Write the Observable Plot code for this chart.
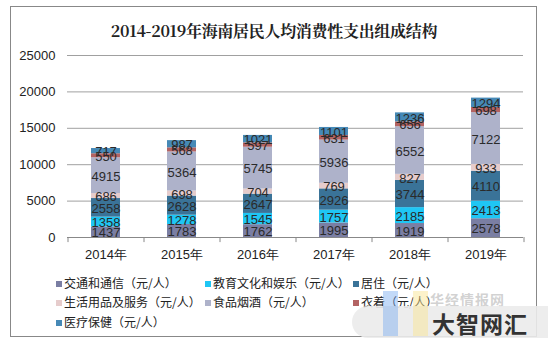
<!DOCTYPE html>
<html><head><meta charset="utf-8">
<script src="https://cdn.jsdelivr.net/npm/d3@7"></script>
<script src="https://cdn.jsdelivr.net/npm/@observablehq/plot@0.6"></script>
<style>
body{margin:0;background:#fff;font-family:"Liberation Sans",Arial,"Noto Sans CJK SC",sans-serif;}
#wrap{position:relative;width:548px;height:349px;overflow:hidden;}
#frame{position:absolute;left:10px;top:6px;width:527px;height:331px;border:1px solid #888;box-sizing:border-box;}
#title{position:absolute;left:0;width:548px;top:19px;text-align:center;font:bold 16px "Noto Serif CJK SC","Noto Sans CJK SC",serif;color:#222;letter-spacing:-0.3px;}
#chart{position:absolute;left:0;top:40px;}
.lg{position:absolute;font:12px "Noto Sans CJK SC",sans-serif;color:#222;white-space:nowrap;line-height:14px;}
.lg i{display:inline-block;width:6px;height:6px;margin-right:2px;vertical-align:1px;}
#wm{position:absolute;left:352px;top:306px;width:210px;height:32px;background:rgba(235,235,235,0.9);border-radius:16px;}
#wm2{position:absolute;left:432px;top:306px;font:bold 23px "Noto Sans CJK SC",sans-serif;color:#333;letter-spacing:1px;}
#wm3{position:absolute;left:430px;top:289px;font:bold 14px "Noto Sans CJK SC",sans-serif;color:rgba(180,180,180,0.6);letter-spacing:1px;}
#lb{position:absolute;left:383px;top:291px;width:15px;height:45px;background:rgba(120,170,240,0.45);}
#ly{position:absolute;left:413px;top:291px;width:15px;height:45px;background:rgba(250,230,150,0.5);}
</style></head>
<body><div id="wrap">
<div id="frame"></div>
<div id="title">2014-2019年海南居民人均消费性支出组成结构</div>
<div id="chart"></div>
<div id="legend"></div>
<div id="wm3">华经情报网</div>
<div id="wm"></div><div id="lb"></div><div id="ly"></div>
<div id="wm2">大智网汇</div>
</div>
<script>
const years = ["2014年","2015年","2016年","2017年","2018年","2019年"];
const seriesNames = ["交通和通信（元/人）","教育文化和娱乐（元/人）","居住（元/人）","生活用品及服务（元/人）","食品烟酒（元/人）","衣着（元/人）","医疗保健（元/人）"];
const colors = ["#7a7ea3","#1fc6f4","#3a7398","#e6cccc","#aeb2ca","#b36363","#4689b6"];
const transport = [1437,1783,1762,1995,1919,2578];
const education = [1358,1278,1545,1757,2185,2413];
const housing = [2558,2628,2647,2926,3744,4110];
const household = [686,698,704,769,827,933];
const food = [4915,5364,5745,5936,6552,7122];
const clothing = [550,568,597,631,656,698];
const medical = [717,987,1021,1101,1236,1294];
const yTicks = [0,5000,10000,15000,20000,25000];

const seriesValues = [transport,education,housing,household,food,clothing,medical];
const data = [];
seriesNames.forEach((s,i)=>years.forEach((y,j)=>data.push({year:y,series:s,value:seriesValues[i][j]})));

const step = 76;
const plot = Plot.plot({
  width:548, height:232,
  marginLeft:67, marginRight:25, marginTop:15, marginBottom:35,
  style:{fontFamily:'"Liberation Sans",Arial,sans-serif',fontSize:"12.5px",color:"#222",background:"transparent"},
  x:{domain:years,paddingInner:0.62,paddingOuter:0.31,label:null},
  y:{domain:[0,25000],label:null},
  color:{domain:seriesNames,range:colors},
  marks:[
    Plot.gridY(yTicks,{stroke:"#a0a0a0",strokeOpacity:1,strokeWidth:1}),
    Plot.axisY(yTicks,{tickSize:0,tickPadding:12,label:null,fontSize:13,tickFormat:d=>String(d)}),
    Plot.barY(data,{x:"year",y:"value",fill:"series",order:seriesNames}),
    Plot.text(data,Plot.stackY({x:"year",y:"value",z:"series",order:seriesNames,text:d=>String(d.value),fill:"#2a2a2a",fontSize:13,dy:1})),
    Plot.ruleY([0],{stroke:"#888"}),
    Plot.ruleX(years,{x:d=>d,dx:-step/2,y1:0,y2:-700,stroke:"#888"}),
    Plot.ruleX([years[years.length-1]],{x:d=>d,dx:step/2,y1:0,y2:-700,stroke:"#888"}),
    Plot.axisX({tickSize:0,tickPadding:12,label:null,fontSize:13})
  ]
});
document.getElementById("chart").appendChild(plot);

const legendPos = [[56,276],[205,276],[353,276],[56,295],[205,295],[353,295],[56,315]];
const lg = document.getElementById("legend");
seriesNames.forEach((s,i)=>{
  const d=document.createElement("div");d.className="lg";
  d.style.left=legendPos[i][0]+"px";d.style.top=legendPos[i][1]+"px";
  d.innerHTML=`<i style="background:${colors[i]}"></i>${s}`;
  lg.appendChild(d);
});
</script>
</body></html>
